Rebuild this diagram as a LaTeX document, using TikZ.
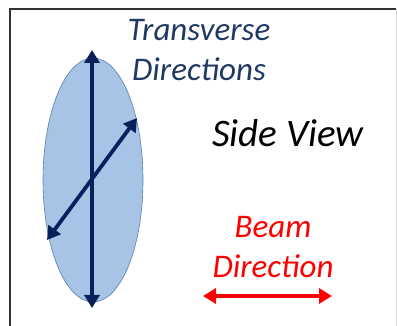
\documentclass[tikz,border=0pt]{standalone}
\usepackage{fontspec}
\setmainfont{Carlito}
\usetikzlibrary{arrows.meta, shapes.geometric}
\definecolor{beamNavy}{HTML}{0B1F5C}
\definecolor{labelNavy}{HTML}{1F3864}
\definecolor{ellFill}{HTML}{A7C4E6}
\definecolor{ellEdge}{HTML}{5A7FA8}
\definecolor{beamRed}{HTML}{FF0000}

\begin{document}
\begin{tikzpicture}[x=1pt, y=1pt,
    dirArrow/.style={draw=beamNavy, line width=3.8pt, {Triangle[length=13pt, width=15pt]}-{Triangle[length=13pt, width=15pt]}},
    beamArrow/.style={draw=beamRed, line width=3.8pt, {Triangle[length=13pt, width=15pt]}-{Triangle[length=13pt, width=15pt]}},
    bigLabel/.style={font=\fontsize{33}{40}\selectfont\itshape, align=center, inner sep=0pt},
]
\useasboundingbox (0,0) rectangle (397,326);
% frame
\draw[black!80, line width=1.6pt] (10,-2) -- (10,317) -- (396,317);
\draw[black!15, line width=0.6pt] (396,317) -- (396,-2);
% beam spot
\node[draw=ellEdge, line width=0.6pt, fill=ellFill, ellipse, minimum width=100pt, minimum height=244pt, inner sep=0pt] (spot) at (93,146) {};
\coordinate (vTop) at (92,276);
\coordinate (vBot) at (92,18);
\coordinate (dLow) at (47,86);
\coordinate (dHigh) at (137,208);
\draw[dirArrow] (vBot) -- (vTop);
\draw[dirArrow] (dLow) -- (dHigh);
% labels
\node[bigLabel, text=labelNavy] (trans) at (199,276) {Transverse\\Directions};
\node[bigLabel, font=\fontsize{39}{44}\selectfont\itshape] (side) at (288,193) {Side View};
\node[bigLabel, text=beamRed] (beam) at (273,79) {Beam\\Direction};
\coordinate (bLeft) at (203,30);
\coordinate (bRight) at (332,30);
\draw[beamArrow] (bLeft) -- (bRight);
\end{tikzpicture}
\end{document}
